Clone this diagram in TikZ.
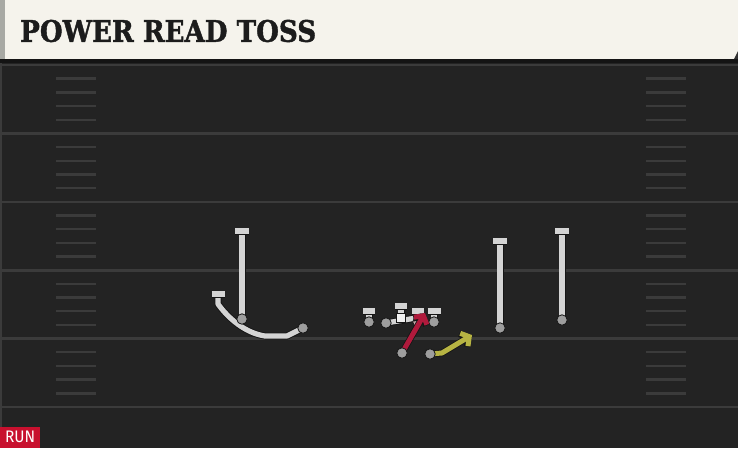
\documentclass[tikz,border=0pt]{standalone}
\usepackage{fontspec}
\usetikzlibrary{arrows.meta}
\newfontfamily\titlefont{DejaVu Serif}[FakeBold=1.5]
\newfontfamily\runfont{Fira Sans}
\definecolor{cream}{HTML}{F5F3EC}
\definecolor{stripe}{HTML}{A8A9A4}
\definecolor{field}{HTML}{232323}
\definecolor{shadow}{HTML}{141414}
\definecolor{fieldline}{HTML}{3B3B3B}
\definecolor{titlec}{HTML}{1C1C1C}
\definecolor{rgrey}{HTML}{D4D4D4}
\definecolor{dotgrey}{HTML}{9E9E9E}
\definecolor{edge}{HTML}{151515}
\definecolor{runred}{HTML}{C8102E}
\definecolor{redroute}{HTML}{B01A3C}
\definecolor{yelroute}{HTML}{B7B443}
\begin{document}
\begin{tikzpicture}[x=1pt,y=-1pt]
\tikzset{
  route/.style={draw=rgrey, line width=5.2pt, line join=round, preaction={draw=edge, line width=7pt}},
  arrowroute/.style={draw=#1, line width=5pt, line join=round,
     -{Straight Barb[length=6pt,width=15pt]},
     preaction={draw=edge, line width=6.6pt}},
  tbar/.style={draw=rgrey, line width=5.2pt, preaction={draw=edge, line width=7pt}},
  dot/.style={circle, fill=dotgrey, draw=edge, line width=0.8pt, minimum size=10.5pt, inner sep=0pt},
  sq/.style={rectangle, fill=white!94!black, draw=edge, line width=0.8pt, minimum size=9.5pt, inner sep=0pt},
  hash/.style={draw=fieldline, line width=2.4pt},
  yard/.style={draw=fieldline, line width=2.6pt},
}
\useasboundingbox (0,0) rectangle (738,448);
% field
\fill[field] (0,0) rectangle (738,448);
\fill[shadow] (0,59) rectangle (738,63);
\draw[fieldline, line width=2.4pt] (1.2,63) -- (1.2,427);
% yard lines
\foreach \k in {0,...,5} {
  \draw[yard] (0,{65+68.4*\k}) -- (738,{65+68.4*\k});
}
% hash marks
\foreach \k in {0,...,4} {
  \foreach \j in {1,...,4} {
    \draw[hash] (56,{65+68.4*\k+13.68*\j}) -- (96,{65+68.4*\k+13.68*\j});
    \draw[hash] (646,{65+68.4*\k+13.68*\j}) -- (686,{65+68.4*\k+13.68*\j});
  }
}
% header
\fill[cream] (0,0) rectangle (738,59);
\fill[stripe] (0,0) rectangle (5,59);
\fill[field!85!gray] (734,59) -- (738,51) -- (738,59) -- cycle;
\node[anchor=west, text=titlec, inner sep=0pt] (title) at (20,31)
  {\resizebox{296pt}{22pt}{\titlefont\bfseries POWER READ TOSS}};
% RUN label
\node[fill=runred, anchor=south west, minimum width=40pt, minimum height=21pt, inner sep=0pt] (runbox) at (0,448) {};
\node[text=white, inner sep=0pt] (runtext) at (runbox.center) {\resizebox{30pt}{11.5pt}{\runfont RUN}};

% player positions
\coordinate (wl) at (242,319);   \coordinate (wlT) at (242,231);
\coordinate (rb) at (303,328);   \coordinate (rbT) at (218,294);
\coordinate (lt) at (369,322);   \coordinate (ltT) at (369,311);
\coordinate (lg) at (386,323);   \coordinate (lgE) at (422,317);
\coordinate (ce) at (401,318);   \coordinate (ceT) at (401,306);
\coordinate (rg) at (418,322);   \coordinate (rgT) at (418,311);
\coordinate (rt) at (434,322);   \coordinate (rtT) at (434,311);
\coordinate (qb) at (402,353);   \coordinate (qbE) at (425,313);
\coordinate (hb) at (430,354);   \coordinate (hbK) at (442,353); \coordinate (hbE) at (472,335);
\coordinate (wr1) at (500,328);  \coordinate (wr1T) at (500,241);
\coordinate (wr2) at (562,320);  \coordinate (wr2T) at (562,231);

% routes
\draw[route] (wl) -- (wlT);
\draw[tbar] ([xshift=-7pt]wlT) -- ([xshift=7pt]wlT);
\draw[route] (rb) -- (287,336) -- (265,336) .. controls (245,333) and (228,318) .. (218,304) -- (rbT);
\draw[tbar] ([xshift=-6.5pt]rbT) -- ([xshift=6.5pt]rbT);
\draw[route] (lt) -- (ltT);
\draw[tbar] ([xshift=-6pt]ltT) -- ([xshift=6pt]ltT);
\draw[route] (ce) -- (ceT);
\draw[tbar] ([xshift=-6pt]ceT) -- ([xshift=6pt]ceT);
\draw[route] (rg) -- (rgT);
\draw[tbar] ([xshift=-6pt]rgT) -- ([xshift=6pt]rgT);
\draw[route] (rt) -- (rtT);
\draw[tbar] ([xshift=-6.5pt]rtT) -- ([xshift=6.5pt]rtT);
\draw[route] (lg) -- (lgE);
\draw[route] (wr1) -- (wr1T);
\draw[tbar] ([xshift=-7pt]wr1T) -- ([xshift=7pt]wr1T);
\draw[route] (wr2) -- (wr2T);
\draw[tbar] ([xshift=-7pt]wr2T) -- ([xshift=7pt]wr2T);
\draw[arrowroute=yelroute] (hb) -- (hbK) -- (hbE);
% dots
\node[dot] (dwl) at (wl) {};
\node[dot] (drb) at (rb) {};
\node[dot] (dlt) at (lt) {};
\node[dot] (dlg) at (lg) {};
\node[sq]  (dce) at (ce) {};
\node[dot] (drt) at (rt) {};
\node[dot] (dhb) at (hb) {};
\node[dot] (dwr1) at (wr1) {};
\node[dot] (dwr2) at (wr2) {};
\node[dot, fill=dotgrey!60!pink] (drg) at (rg) {};
\draw[arrowroute=redroute] (qb) -- (qbE);
\node[dot] (dqb) at (qb) {};
\end{tikzpicture}
\end{document}
